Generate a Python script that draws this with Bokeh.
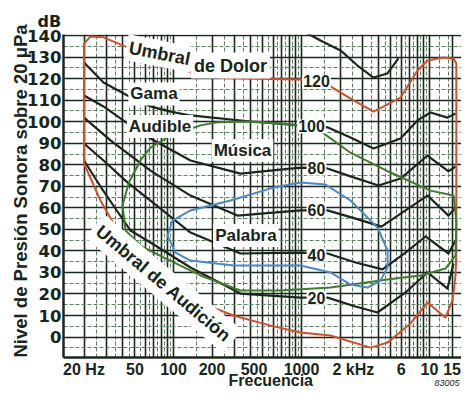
import math
from bokeh.plotting import figure
from bokeh.models import FixedTicker, Label, Range1d, Title
from bokeh.embed import file_html
from bokeh.resources import INLINE

NB = "\u00a0"

# ---------------- data ----------------
freq_ticks = [20, 50, 100, 200, 500, 1000, 2000, 6000, 10000, 15000]
freq_tick_labels = ["20 Hz", "50", "100", "200", "500" + NB * 4, "1000", NB * 6 + "2 kHz", "6", "10", "15"]
db_ticks = [0, 10, 20, 30, 40, 50, 60, 70, 80, 90, 100, 110, 120, 130, 140]

grid_major_freq = [20, 30, 40, 50, 60, 70, 80, 90, 100, 200, 300, 400, 500, 600, 700, 800,
                   900, 1000, 2000, 3000, 4000, 5000, 6000, 7000, 8000, 9000, 10000, 15000]
grid_minor_freq = [25, 35, 45, 55, 65, 75, 85, 95, 150, 250, 350, 450, 550, 650, 750, 850, 950,
                   1500, 2500, 3500, 4500, 5500, 6500, 7500, 8500, 9500, 12000, 14000]
grid_major_db = [-10, 0, 10, 20, 30, 40, 50, 60, 70, 80, 90, 100, 110, 120, 130, 140]
grid_minor_db = [-5, 5, 15, 25, 35, 45, 55, 65, 75, 85, 95, 105, 115, 125, 135]

# top partial contour
top_freq = [1114, 1407, 2017, 2738, 3652, 4697, 5722]
top_db = [141, 137.7, 133.1, 126.1, 120.5, 122.4, 129.4]

# 100 phon
p100_freq = [20, 28.4, 43.7, 66.1, 94.8, 135.8, 399.7, 982, 1596, 2414, 3652, 5935, 8057, 10180, 13830, 15970]
p100_db = [127.5, 118.2, 112.2, 107.1, 104.7, 102.9, 100.1, 98.3, 97.4, 92.7, 87.6, 92.2, 100.6, 104.3, 101.9, 103.8]

# 80 phon
p80_freq = [20, 28.4, 43.7, 66.1, 135.8, 333.7, 982, 1596, 2414, 3996, 5935, 9647, 14070, 15970]
p80_db = [112.2, 107.1, 99.2, 92.2, 82.0, 75.9, 78.7, 78.3, 74.6, 70.4, 73.6, 84.3, 76.9, 79.2]

# 60 phon
p60_freq = [20, 32.2, 66.1, 135.8, 316, 982, 1596, 2643, 4217, 6494, 9647, 14070, 15970]
p60_db = [101.9, 91.3, 77.3, 65.7, 56.4, 58.8, 58.8, 55.0, 51.3, 58.8, 65.7, 56.4, 60.1]

# 40 phon
p40_freq = [20, 28.4, 43.7, 66.1, 135.8, 333.7, 982, 1596, 2643, 4293, 6494, 9306, 14070, 15970]
p40_db = [89.9, 82.0, 71.8, 63.4, 48.5, 38.8, 39.2, 38.8, 34.6, 31.4, 39.2, 46.7, 38.8, 44.8]

# 20 phon
p20_freq = [20, 26.9, 36.5, 46.1, 66.1, 135.8, 333.7, 982, 1596, 2643, 3925, 6494, 9647, 13830, 15400]
p20_db = [82.0, 69.9, 58.3, 49.5, 43.9, 32.3, 20.2, 18.3, 18.3, 14.2, 11.4, 20.7, 30.0, 22.5, 34.1]

# threshold of pain (upper red) and threshold of hearing (lower red)
pain_freq = [20, 22.5, 28.4, 43.7, 79.1, 143.3, 245.9, 600, 1000, 1407, 2549, 3652, 5935, 8057, 9647, 12860, 15400, 16200]
pain_db = [136.3, 139.6, 139.2, 134.5, 128.4, 122.4, 120.3, 119.8, 119.6, 119.2, 109.9, 104.7, 111.2, 123.8, 128.4, 129.8, 129.4, 127]
hear_freq = [20, 26.9, 36.5, 66.1, 162.5, 294, 573, 982, 1685, 3460, 4697, 7100, 9647, 12190, 13340, 15120, 15970, 16200]
hear_db = [80.6, 63.4, 49.5, 34.1, 16.0, 10.0, 5.3, 2.1, 0.7, -4.9, -2.6, 6.3, 16.0, 10.9, 9.1, 17.0, 28.6, 40]

# music region (closed)
music_freq = [42.2, 40, 44.8, 55.2, 66.1, 94.8, 162.5, 220.7, 399.7, 820.5, 1407, 2414, 4957, 10180, 15400,
              16200, 15970, 13340, 8504, 4697, 1685, 685.5, 333.7, 162.5, 86.6, 55.2, 42.2]
music_db = [49.5, 61.1, 71.8, 82.0, 88.0, 93.6, 98.3, 99.7, 100.1, 98.8, 95.6, 85.6, 76.4, 68.0, 65.7,
            54.1, 37.9, 31.8, 28.6, 26.7, 23.0, 21.6, 21.6, 28.6, 36.5, 42.5, 49.5]

# speech region (closed)
speech_freq = [89.8, 98.2, 135.8, 278.8, 604, 982, 1540, 2414, 3925, 4697, 4697, 4142, 3280, 2414, 1685, 982, 294, 135.8, 103.7, 89.8]
speech_db = [47.1, 54.1, 58.8, 63.4, 69.4, 71.8, 70.8, 63.4, 50.9, 40.2, 32.3, 26.2, 23.0, 24.4, 30.0, 33.2, 33.2, 35.5, 39.2, 47.1]

# ---------------- styling ----------------
TXT = "#17261b"
BLK = "#1b271d"
RED = "#d0502e"
GREEN = "#3d7d2c"
BLUE = "#4a88cc"

p = figure(width=461, height=390, x_axis_type="log",
           x_range=Range1d(13.83, 17780), y_range=Range1d(-9.5, 140.5),
           output_backend="svg", toolbar_location=None,
           min_border_left=63, min_border_right=0, min_border_top=34, min_border_bottom=33)
p.outline_line_color = None
p.background_fill_color = "white"
p.border_fill_color = "white"

p.xgrid.ticker = FixedTicker(ticks=grid_major_freq, minor_ticks=grid_minor_freq)
p.xgrid.grid_line_color = BLK
p.xgrid.grid_line_width = 1.6
p.xgrid.grid_line_alpha = 1.0
p.xgrid.minor_grid_line_color = "#5d8262"
p.xgrid.minor_grid_line_dash = "4 2"
p.xgrid.minor_grid_line_width = 1

p.ygrid.ticker = FixedTicker(ticks=grid_major_db, minor_ticks=grid_minor_db)
p.ygrid.grid_line_color = BLK
p.ygrid.grid_line_width = 1.6
p.ygrid.grid_line_alpha = 1.0
p.ygrid.minor_grid_line_color = "#5d8262"
p.ygrid.minor_grid_line_dash = "4 2"
p.ygrid.minor_grid_line_width = 1

p.xaxis.ticker = FixedTicker(ticks=freq_ticks)
p.xaxis.major_label_overrides = {f: t for f, t in zip(freq_ticks, freq_tick_labels)}
p.yaxis.ticker = FixedTicker(ticks=db_ticks)
for ax in (p.xaxis, p.yaxis):
    ax.major_tick_line_color = None
    ax.minor_tick_line_color = None
    ax.major_tick_out = 0
    ax.major_tick_in = 0
    ax.axis_line_color = BLK
    ax.axis_line_width = 2.5
    ax.major_label_text_color = TXT
    ax.major_label_text_font_style = "bold"
p.xaxis.major_label_text_font = "Liberation Sans"
p.xaxis.major_label_text_font_size = "16px"
p.xaxis.major_label_standoff = 3
p.yaxis.major_label_text_font = "DejaVu Sans"
p.yaxis.major_label_text_font_size = "16.5px"
p.yaxis.major_label_standoff = 2

# ---------------- titles outside the frame ----------------
p.add_layout(Title(text="Nivel de Presión Sonora sobre 20 μPa", align="left", offset=0,
                   vertical_align="bottom", standoff=-12, text_font="Liberation Sans",
                   text_font_style="bold", text_font_size="18.5px", text_color=TXT), "left")
p.add_layout(Title(text="dB", align="left", offset=-26, vertical_align="bottom", standoff=8,
                   text_font="DejaVu Sans", text_font_style="bold", text_font_size="16px",
                   text_color=TXT), "above")
p.add_layout(Title(text="Frecuencia", align="left", offset=165, vertical_align="top", standoff=-18,
                   text_font="Liberation Sans", text_font_style="bold", text_font_size="16px",
                   text_color=TXT), "below")
p.add_layout(Title(text="83005", align="right", offset=2, vertical_align="top", standoff=-4,
                   text_font="Liberation Sans", text_font_style="italic", text_font_size="9px",
                   text_color=TXT), "below")

# ---------------- curves ----------------
for fx, dy in [(top_freq, top_db), (p100_freq, p100_db), (p80_freq, p80_db),
               (p60_freq, p60_db), (p40_freq, p40_db), (p20_freq, p20_db)]:
    p.line(fx, dy, line_color=BLK, line_width=2.2, line_join="round")

red_f = pain_freq + hear_freq[::-1] + [pain_freq[0]]
red_d = pain_db + hear_db[::-1] + [pain_db[0]]
p.line(red_f, red_d, line_color=RED, line_width=2, line_join="round")
p.line(music_freq, music_db, line_color=GREEN, line_width=2, line_join="round")
p.line(speech_freq, speech_db, line_color=BLUE, line_width=2, line_join="round")

# ---------------- labels inside the chart ----------------
def lab(text, x, y, size, angle=0.0, pad=2):
    p.add_layout(Label(x=x, y=y, text=text, text_font="Liberation Sans",
                       text_font_style="bold", text_font_size=f"{size}px", text_color=TXT,
                       text_align="center", text_baseline="middle", angle=angle,
                       background_fill_color="white", padding=pad))

lab("Umbral", 77.8, 131.7, 18, angle=math.radians(-11), pad=3)
lab("de Dolor", 278.8, 126.1, 18, pad=3)
lab("Gama", 70.4, 112.9, 17, pad=2)
lab("Audible", 78.5, 97.8, 17, pad=2)
lab("Música", 346, 86.6, 17, pad=2)
lab("Palabra", 368, 47.1, 17, pad=2)
lab("Umbral de Audición", 83.5, 24.8, 18, angle=math.radians(-40), pad=5)

for t, fx, dy in [("120", 1310, 118.7), ("100", 1197, 97.8), ("80", 1310, 78.3),
                  ("60", 1310, 58.8), ("40", 1310, 38.3), ("20", 1310, 18.3)]:
    lab(t, fx, dy, 16, pad=1)

open("out.html", "w").write(file_html(p, INLINE))
